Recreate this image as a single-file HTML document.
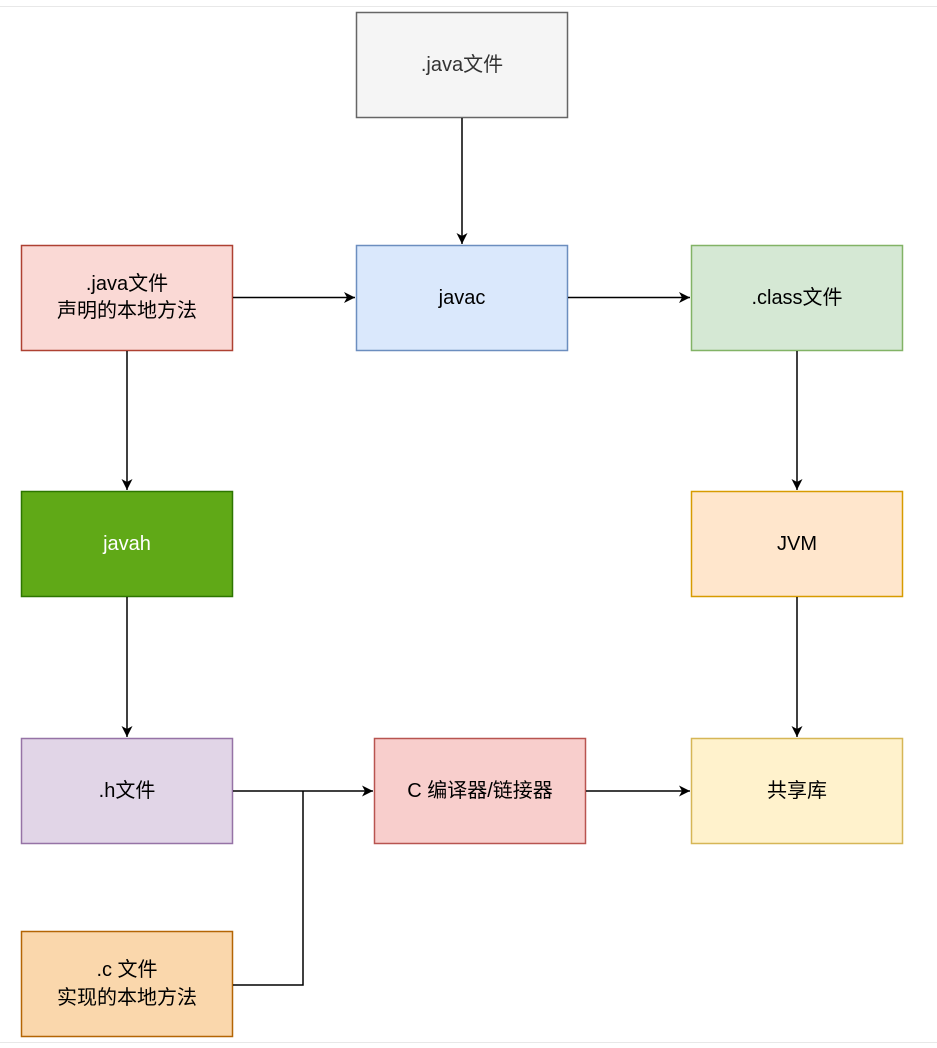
<!DOCTYPE html>
<html><head><meta charset="utf-8"><style>
html,body{margin:0;padding:0;background:#fff;}
svg{display:block;}
text{font-family:"Liberation Sans","Noto Sans CJK SC",sans-serif;font-size:20px;text-anchor:middle;dominant-baseline:central;}
</style></head><body>
<svg width="937" height="1048" viewBox="0 0 937 1048" xmlns="http://www.w3.org/2000/svg">
<defs>
<marker id="a" markerWidth="12" markerHeight="12" refX="11" refY="6" orient="auto" markerUnits="userSpaceOnUse">
<path d="M0,0.5 L11,6 L0,11.5 L3,6 Z" fill="#000"/>
</marker>
</defs>
<line x1="0" y1="6.5" x2="937" y2="6.5" stroke="#e8e8e8" stroke-width="1"/>
<line x1="0" y1="1042.5" x2="937" y2="1042.5" stroke="#e8e8e8" stroke-width="1"/>

<g stroke-width="1.5">
<rect x="356.5" y="12.5" width="211" height="105" fill="#f5f5f5" stroke="#666"/>
<rect x="21.5" y="245.5" width="211" height="105" fill="#fad9d5" stroke="#ae4132"/>
<rect x="356.5" y="245.5" width="211" height="105" fill="#dae8fc" stroke="#6c8ebf"/>
<rect x="691.5" y="245.5" width="211" height="105" fill="#d5e8d4" stroke="#82b366"/>
<rect x="21.5" y="491.5" width="211" height="105" fill="#60a917" stroke="#2d7600"/>
<rect x="691.5" y="491.5" width="211" height="105" fill="#ffe6cc" stroke="#d79b00"/>
<rect x="21.5" y="738.5" width="211" height="105" fill="#e1d5e7" stroke="#9673a6"/>
<rect x="374.5" y="738.5" width="211" height="105" fill="#f8cecc" stroke="#b85450"/>
<rect x="691.5" y="738.5" width="211" height="105" fill="#fff2cc" stroke="#d6b656"/>
<rect x="21.5" y="931.5" width="211" height="105" fill="#fad7ac" stroke="#b46504"/>
</g>

<g stroke="#000" stroke-width="1.5" fill="none">
<line x1="462" y1="118" x2="462" y2="244" marker-end="url(#a)"/>
<line x1="233" y1="297.5" x2="355" y2="297.5" marker-end="url(#a)"/>
<line x1="568" y1="297.5" x2="690" y2="297.5" marker-end="url(#a)"/>
<line x1="127" y1="351" x2="127" y2="490" marker-end="url(#a)"/>
<line x1="797" y1="351" x2="797" y2="490" marker-end="url(#a)"/>
<line x1="127" y1="597" x2="127" y2="737" marker-end="url(#a)"/>
<line x1="797" y1="597" x2="797" y2="737" marker-end="url(#a)"/>
<line x1="233" y1="791" x2="373" y2="791" marker-end="url(#a)"/>
<polyline points="233,985 303,985 303,791"/>
<line x1="586" y1="791" x2="690" y2="791" marker-end="url(#a)"/>
</g>

<text x="462" y="65" fill="#333">.java文件</text>
<text x="127" y="284" fill="#000">.java文件</text>
<text x="127" y="311" fill="#000">声明的本地方法</text>
<text x="462" y="298" fill="#000">javac</text>
<text x="797" y="298" fill="#000">.class文件</text>
<text x="127" y="544" fill="#fff">javah</text>
<text x="797" y="544" fill="#000">JVM</text>
<text x="127" y="791" fill="#000">.h文件</text>
<text x="480" y="791" fill="#000">C 编译器/链接器</text>
<text x="797" y="791" fill="#000">共享库</text>
<text x="127" y="970" fill="#000">.c 文件</text>
<text x="127" y="998" fill="#000">实现的本地方法</text>
</svg>
</body></html>
